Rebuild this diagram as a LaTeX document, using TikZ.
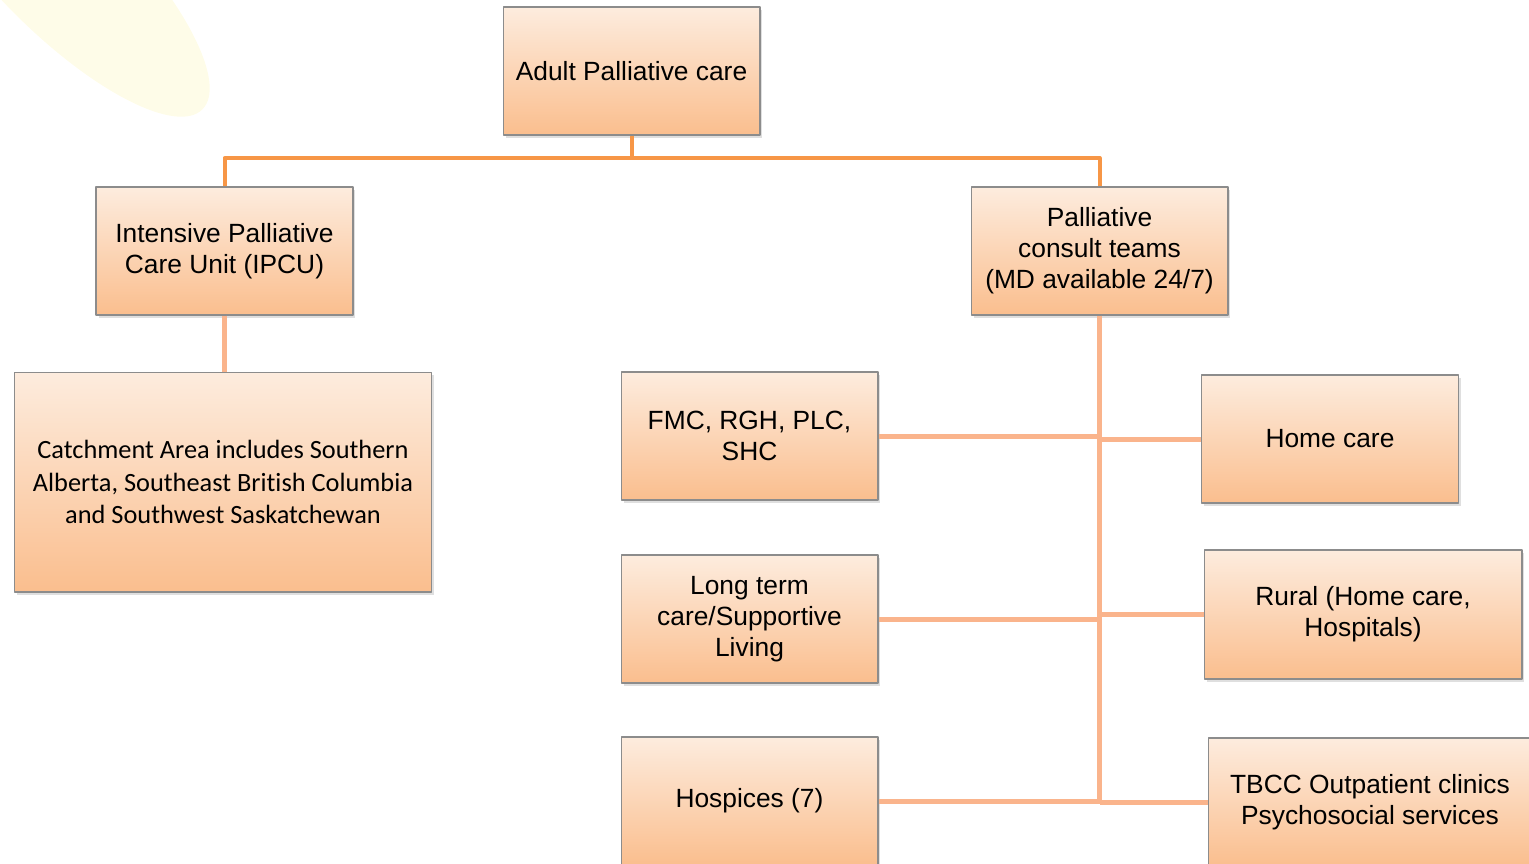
\documentclass[tikz,border=0pt]{standalone}
\usepackage{fontspec}
\setmainfont{Liberation Sans}
\newfontfamily\calibri{Carlito}[Ligatures=NoCommon]
\usetikzlibrary{shadows}
\definecolor{boxtop}{RGB}{253,236,222}
\definecolor{boxbot}{RGB}{250,190,142}
\definecolor{boxline}{RGB}{140,140,140}
\definecolor{linkdark}{RGB}{247,150,70}
\definecolor{linklight}{RGB}{250,180,140}
\definecolor{blobfill}{RGB}{254,252,232}
\begin{document}
\begin{tikzpicture}[x=0.02cm,y=-0.02cm,line join=round,font=\fontsize{15}{17.6}\selectfont,
	unit/.style={draw=boxline,line width=0.6pt,top color=boxtop,bottom color=boxbot,
		minimum width=5.14cm,minimum height=2.56cm,align=center,inner sep=2pt,
		drop shadow={shadow xshift=0.05cm,shadow yshift=-0.06cm,opacity=0.25}},
	link/.style={linklight,line width=0.1cm},
	toplink/.style={linkdark,line width=0.08cm}]
			\clip (0,0) rectangle (1529,863);
			\fill[blobfill,rotate around={-45:(61,-32)}] (61,-32) ellipse [x radius=4cm,y radius=1.3cm];
			% boxes
			\node[unit] (adult) at (631.5,71) {Adult Palliative care};
			\node[unit] (ipcu) at (224.5,251) {Intensive Palliative\\Care Unit (IPCU)};
			\node[unit,minimum width=8.36cm,minimum height=4.4cm,font=\calibri\fontsize{15}{18.7}\selectfont] (catch) at (223,482) {Catchment Area includes Southern\\Alberta, Southeast British Columbia\\and Southwest Saskatchewan};
			\node[unit] (consult) at (1099.5,251) {Palliative\\consult teams\\(MD available 24/7)};
			\node[unit] (fmc) at (749.5,436) {FMC, RGH, PLC,\\SHC};
			\node[unit] (home) at (1330,439) {Home care};
			\node[unit] (ltc) at (749.5,619) {Long term\\care/Supportive\\Living};
			\node[unit,minimum width=6.36cm,minimum height=2.58cm] (rural) at (1363,614.5) {Rural (Home care,\\Hospitals)};
			\node[unit] (hosp) at (749.5,801) {Hospices (7)};
			\node[unit,minimum width=6.48cm] (tbcc) at (1370,802) {TBCC Outpatient clinics\\Psychosocial services};
			% connectors
			\coordinate (bar) at (0,158);
			\coordinate (hub) at (adult.south |- bar);
			\draw[toplink] (adult.south) -- (hub);
			\draw[toplink] (ipcu.north) |- (hub) -| (consult.north);
			\draw[link] (ipcu.south) -- (ipcu.south |- catch.north);
			\draw[link] (consult.south) -- (consult.south |- hosp.east);
			\foreach \n in {fmc,ltc,hosp}
				\draw[link] (\n.east) -- (\n.east -| consult.south);
			\foreach \n in {home,rural,tbcc}
				\draw[link] (\n.west) -- (\n.west -| consult.south);
\end{tikzpicture}
\end{document}
